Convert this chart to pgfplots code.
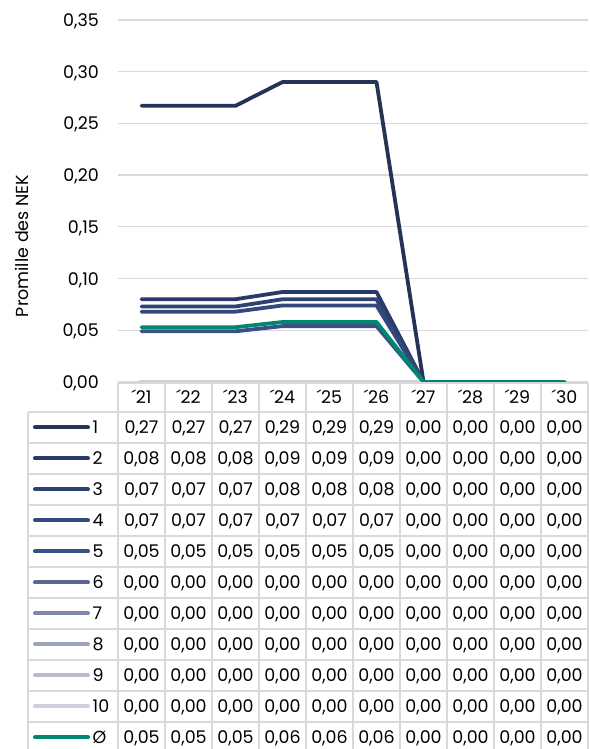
\documentclass[border=0pt]{standalone}
\usepackage{fontspec}
\setmainfont{Poppins}
\usepackage{pgfplots}
\usepackage{pgfplotstable}
\pgfplotsset{compat=1.18}
\definecolor{c1}{HTML}{253359}
\definecolor{c2}{HTML}{2A3A68}
\definecolor{c3}{HTML}{2E4173}
\definecolor{c4}{HTML}{33487E}
\definecolor{c5}{HTML}{3A5088}
\definecolor{c6}{HTML}{5A6792}
\definecolor{c7}{HTML}{7F87A8}
\definecolor{c8}{HTML}{9EA4BE}
\definecolor{c9}{HTML}{B8BCCE}
\definecolor{c10}{HTML}{CDD0DC}
\definecolor{c11}{HTML}{00876F}
\definecolor{gridc}{HTML}{D9D9D9}
\pgfplotstableread{
x s1 s2 s3 s4 s5 s6 s7 s8 s9 s10 s11
0 0.267 0.080 0.073 0.068 0.049 0 0 0 0 0 0.053
1 0.267 0.080 0.073 0.068 0.049 0 0 0 0 0 0.053
2 0.267 0.080 0.073 0.068 0.049 0 0 0 0 0 0.053
3 0.290 0.087 0.080 0.074 0.054 0 0 0 0 0 0.058
4 0.290 0.087 0.080 0.074 0.054 0 0 0 0 0 0.058
5 0.290 0.087 0.080 0.074 0.054 0 0 0 0 0 0.058
6 0 0 0 0 0 0 0 0 0 0 0
7 0 0 0 0 0 0 0 0 0 0 0
8 0 0 0 0 0 0 0 0 0 0 0
9 0 0 0 0 0 0 0 0 0 0 0
}\data
\newcommand\fs{\fontsize{17.5}{21}\selectfont}
\begin{document}
\fs
\begin{tikzpicture}[x=1bp,y=1bp]
\useasboundingbox (0,0) rectangle (590,749);
\begin{axis}[
  at={(118bp,367bp)}, anchor=south west,
  scale only axis, width=470bp, height=362bp,
  xmin=-0.5, xmax=9.5, ymin=0, ymax=0.35,
  clip=false,
  axis line style={draw=none},
  major tick length=0pt,
  ymajorgrids, grid style={gridc, line width=1.3bp},
  ytick={0,0.05,0.1,0.15,0.2,0.25,0.3,0.35},
  xtick={0,1,2,3,4,5,6,7,8,9},
  xticklabels={´21,´22,´23,´24,´25,´26,´27,´28,´29,´30},
  tick label style={font=\fs},
  /pgf/number format/assume math mode=true,
  yticklabel style={/pgf/number format/.cd, fixed, fixed zerofill, precision=2, use comma, /tikz/.cd, anchor=base east, inner sep=0pt, xshift=-19bp, yshift=-6.5bp},
  xticklabel style={anchor=base, inner sep=0pt, yshift=-21.5bp},
  every axis plot/.append style={line width=3.8bp, line join=round, line cap=round, no markers},
]
\addplot[c1] table[x=x,y=s1]{\data};
\addplot[c2] table[x=x,y=s2]{\data};
\addplot[c3] table[x=x,y=s3]{\data};
\addplot[c4] table[x=x,y=s4]{\data};
\addplot[c5] table[x=x,y=s5]{\data};
\addplot[c6] table[x=x,y=s6]{\data};
\addplot[c7] table[x=x,y=s7]{\data};
\addplot[c8] table[x=x,y=s8]{\data};
\addplot[c9] table[x=x,y=s9]{\data};
\addplot[c10] table[x=x,y=s10]{\data};
\addplot[c11] table[x=x,y=s11]{\data};
\end{axis}
\node[rotate=90] at (22,{749-246}) {Promille des NEK};
% table grid
\begin{scope}[gridc, line width=1.5bp]
\draw (118,{749-383}) -- (588,{749-383});
\foreach \x in {118,165,...,588} \draw (\x,{749-383}) -- (\x,{749-753});
\draw (28,{749-412}) -- (28,{749-753});
\foreach \k in {0,...,11} \draw (28,{749-412-31*\k}) -- (588,{749-412-31*\k});
\end{scope}
\foreach \i/\lab in {1/1,2/2,3/3,4/4,5/5,6/6,7/7,8/8,9/9,10/10,11/Ø}{
  \pgfmathsetmacro\yc{749-412-31*(\i-1)-15.5}
  \draw[c\i, line width=4bp, line cap=round] (35,\yc) -- (88,\yc);
  \node[anchor=base west, inner sep=0pt] at (92.5,\yc-6.5) {\lab};
  \foreach \j in {0,...,9}{
    \pgfplotstablegetelem{\j}{s\i}\of\data
    \node[anchor=base, inner sep=0pt] at ({118+47*(\j+0.5)},\yc-6.5) {\pgfmathprintnumber[fixed,fixed zerofill,precision=2,use comma,assume math mode=true]{\pgfplotsretval}};
  }
}
\end{tikzpicture}
\end{document}
